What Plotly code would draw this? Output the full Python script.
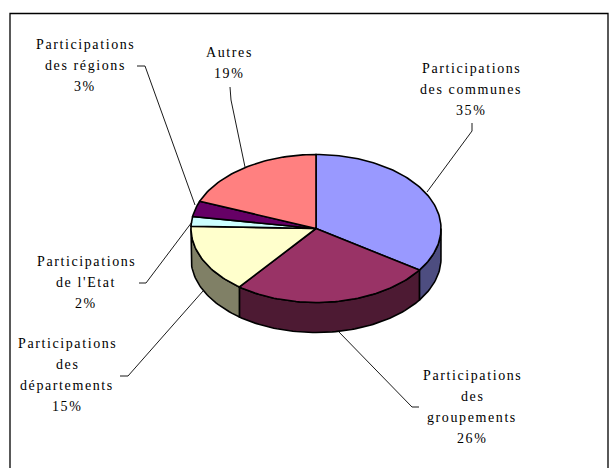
import math
import plotly.graph_objects as go

categories = ["Participations des communes", "Participations des groupements",
              "Participations des départements", "Participations de l'Etat",
              "Participations des régions", "Autres"]
values = [34.5, 26, 15, 2.1, 3.4, 19]
top_colors = ["#9999FF", "#993366", "#FFFFCC", "#CCFFFF", "#660066", "#FF8080"]
side_colors = ["#4D4D80", "#4D1A33", "#808066", "#668080", "#330033", "#804040"]

label_lines = [["Participations", "des communes", "35%"],
               ["Participations", "des", "groupements", "26%"],
               ["Participations", "des", "départements", "15%"],
               ["Participations", "de l'Etat", "2%"],
               ["Participations", "des régions", "3%"],
               ["Autres", "19%"]]
label_pos = [(471, 89), (472, 406.5), (67, 374.5), (86, 282), (85, 65), (229, 62.5)]
leaders = [[(472, 123), (472, 131), (427, 192)],
           [(419, 407), (412, 407), (338, 331)],
           [(120, 376), (128, 376), (203, 291)],
           [(139, 283), (146, 283), (192, 222)],
           [(137, 66), (145, 66), (195, 205)],
           [(230, 87), (231, 100), (245, 167)]]

CX, CY, RX, RY, DEPTH = 316, 228.5, 125, 74, 30
LW = 1.6
LINE_H = 21


def pt(frac, dy=0):
    a = 2 * math.pi * frac
    return CX + RX * math.sin(a), CY - RY * math.cos(a) + dy


def arc(f0, f1, dy=0):
    n = max(2, int((f1 - f0) * 240))
    return [pt(f0 + (f1 - f0) * i / n, dy) for i in range(n + 1)]


def poly(points, fill, name):
    return go.Scatter(x=[p[0] for p in points] + [points[0][0]],
                      y=[p[1] for p in points] + [points[0][1]],
                      mode="lines", fill="toself", fillcolor=fill, name=name,
                      line=dict(color="black", width=LW), hoverinfo="name")


fig = go.Figure()
total = sum(values)
cum = 0.0
slices = []
for v in values:
    slices.append((cum / total, (cum + v) / total))
    cum += v

# sides (only the front half of the disc shows them)
for (f0, f1), c, n in zip(slices, side_colors, categories):
    a, b = max(f0, 0.25), min(f1, 0.75)
    if a < b:
        fig.add_trace(poly(arc(a, b) + arc(a, b, DEPTH)[::-1], c, n))

# top faces
for (f0, f1), c, n in zip(slices, top_colors, categories):
    fig.add_trace(poly([(CX, CY)] + arc(f0, f1), c, n))

# leader lines
for seg in leaders:
    fig.add_trace(go.Scatter(x=[p[0] for p in seg], y=[p[1] for p in seg], mode="lines",
                             line=dict(color="black", width=0.9), hoverinfo="skip"))

for lines, (x, y) in zip(label_lines, label_pos):
    for i, s in enumerate(lines):
        fig.add_annotation(x=x, y=y + (i - (len(lines) - 1) / 2) * LINE_H,
                           text=f'<span style="letter-spacing:1.6px">{s}</span>',
                           showarrow=False, xanchor="center", yanchor="middle",
                           font=dict(family="Liberation Serif", size=14, color="black"))

fig.add_shape(type="rect", x0=10, y0=13.5, x1=608, y1=480, line=dict(color="black", width=1.3),
              layer="below")
fig.update_layout(width=612, height=468, margin=dict(l=0, r=0, t=0, b=0), showlegend=False,
                  paper_bgcolor="white", plot_bgcolor="white",
                  xaxis=dict(range=[0, 612], visible=False, fixedrange=True),
                  yaxis=dict(range=[468, 0], visible=False, fixedrange=True))
fig.write_html("out.html", config=dict(displayModeBar=False),
               post_script="document.body.style.margin='0';document.body.style.overflow='hidden';")
